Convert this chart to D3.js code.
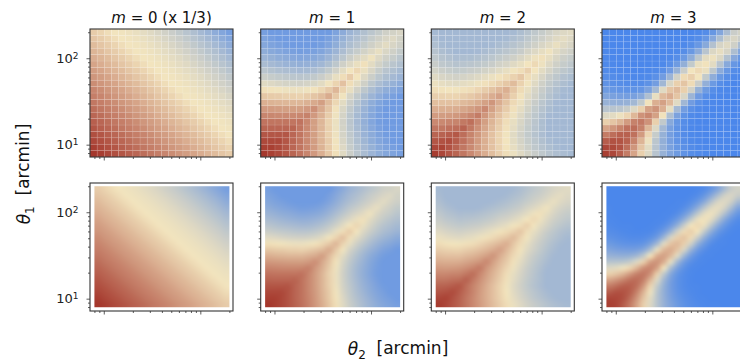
<!DOCTYPE html>
<html>
<head>
<meta charset="utf-8">
<script src="https://cdn.jsdelivr.net/npm/d3@7"></script>
<style>
  html, body { margin: 0; padding: 0; background: #fff; }
  svg { display: block; font-family: "DejaVu Sans", sans-serif; }
</style>
</head>
<body>
<div id="chart"></div>
<script>
// log-spaced bin edges in arcmin, same for theta1 and theta2
const thetaEdges = [7.2, 8.54, 10.13, 12.01, 14.24, 16.89, 20.03, 23.76, 28.17, 33.41, 39.62,
    46.99, 55.72, 66.09, 78.37, 92.95, 110.2, 130.7, 155.0, 183.9, 218.0];
const axisDomain = [7.2, 218];
const modelExtent = [8, 200];
const orders = [0, 1, 2, 3];
const titleNotes = [" (x 1/3)", "", "", ""];
const yTickLabels = [10, 100];

// maps are symmetric in theta1 <-> theta2, values in colour units (-100 red, 0 cream, 100 blue)
// row i = theta1 bin, holds theta2 bins 0..i
const mapM0 = [
    [-95],
    [-91, -86],
    [-86, -82, -78],
    [-82, -78, -73, -69],
    [-78, -73, -69, -65, -60],
    [-73, -69, -65, -60, -56, -52],
    [-69, -65, -60, -56, -52, -48, -43],
    [-65, -60, -56, -52, -48, -43, -39, -35],
    [-60, -56, -52, -48, -43, -39, -35, -30, -26],
    [-56, -52, -48, -43, -39, -35, -30, -26, -22, -17],
    [-52, -48, -43, -39, -35, -30, -26, -22, -17, -13, -9],
    [-48, -43, -39, -35, -30, -26, -22, -17, -13, -9, -4, 0],
    [-43, -39, -35, -30, -26, -22, -17, -13, -9, -4, 0, 1, 3],
    [-39, -35, -30, -26, -22, -17, -13, -9, -4, 0, 1, 3, 5, 8],
    [-35, -30, -26, -22, -17, -13, -9, -4, 0, 1, 3, 5, 8, 11, 15],
    [-30, -26, -22, -17, -13, -9, -4, 0, 1, 3, 5, 8, 11, 15, 19, 23],
    [-26, -22, -17, -13, -9, -4, 0, 1, 3, 5, 8, 11, 15, 19, 23, 28, 33],
    [-22, -17, -13, -9, -4, 0, 1, 3, 5, 8, 11, 15, 19, 23, 28, 33, 38, 44],
    [-17, -13, -9, -4, 0, 1, 3, 5, 8, 11, 15, 19, 23, 28, 33, 38, 44, 50, 57],
    [-13, -9, -4, 0, 1, 3, 5, 8, 11, 15, 19, 23, 28, 33, 38, 44, 50, 57, 63, 70]
];

const mapM1 = [
    [-95],
    [-90, -90],
    [-85, -85, -85],
    [-78, -78, -78, -78],
    [-70, -69, -69, -69, -70],
    [-62, -61, -61, -61, -61, -62],
    [-52, -51, -50, -50, -50, -51, -54],
    [-41, -40, -39, -38, -38, -38, -41, -46],
    [-29, -27, -26, -25, -25, -25, -28, -32, -38],
    [-16, -14, -13, -11, -11, -10, -13, -17, -22, -31],
    [-3, -1, 1, 3, 4, 4, 2, -1, -7, -15, -25],
    [10, 12, 15, 17, 18, 19, 17, 14, 9, 1, -9, -19],
    [22, 25, 27, 29, 31, 32, 31, 28, 23, 16, 6, -4, -13],
    [32, 35, 38, 40, 42, 44, 43, 40, 35, 28, 19, 9, 0, -7],
    [41, 44, 47, 50, 52, 54, 53, 50, 46, 39, 30, 20, 12, 5, -2],
    [49, 52, 56, 58, 61, 63, 62, 60, 56, 49, 40, 31, 22, 15, 9, 2],
    [56, 60, 63, 66, 69, 71, 70, 68, 64, 57, 49, 40, 31, 25, 18, 12, 6],
    [62, 66, 69, 72, 74, 74, 74, 74, 71, 65, 56, 47, 39, 33, 26, 20, 14, 9],
    [66, 70, 74, 74, 74, 74, 74, 74, 74, 69, 61, 52, 44, 38, 32, 25, 20, 15, 12],
    [70, 74, 74, 74, 74, 74, 74, 74, 74, 74, 66, 58, 49, 43, 37, 31, 26, 20, 18, 15]
];

const mapM2 = [
    [-92],
    [-86, -88],
    [-78, -80, -83],
    [-70, -71, -74, -77],
    [-60, -60, -63, -65, -71],
    [-50, -50, -52, -53, -59, -64],
    [-40, -39, -40, -42, -46, -51, -57],
    [-30, -29, -29, -30, -34, -38, -43, -50],
    [-21, -19, -19, -19, -23, -26, -31, -37, -43],
    [-12, -10, -9, -9, -12, -15, -19, -24, -30, -36],
    [-4, -1, 0, 1, -2, -4, -8, -13, -18, -24, -29],
    [4, 7, 9, 10, 8, 6, 3, -2, -6, -11, -16, -22],
    [11, 15, 17, 19, 17, 15, 12, 8, 4, -1, -5, -10, -16],
    [18, 22, 25, 27, 26, 24, 22, 18, 15, 10, 6, 1, -4, -11],
    [24, 29, 31, 34, 33, 32, 30, 27, 24, 19, 16, 11, 6, 0, -6],
    [29, 34, 37, 40, 39, 39, 37, 34, 31, 27, 24, 20, 15, 9, 3, -2],
    [34, 39, 42, 45, 45, 45, 44, 41, 38, 35, 32, 28, 24, 17, 12, 7, 2],
    [38, 43, 45, 45, 45, 45, 45, 45, 44, 41, 38, 34, 30, 25, 20, 15, 10, 5],
    [41, 45, 45, 45, 45, 45, 45, 45, 45, 45, 43, 39, 36, 30, 25, 21, 16, 11, 8],
    [43, 45, 45, 45, 45, 45, 45, 45, 45, 45, 45, 43, 39, 34, 29, 25, 20, 15, 12, 10]
];

const mapM3 = [
    [-90],
    [-86, -85],
    [-74, -80, -79],
    [-57, -65, -72, -72],
    [-35, -43, -53, -63, -65],
    [-11, -17, -26, -40, -54, -58],
    [12, 9, 3, -8, -25, -45, -51],
    [33, 33, 31, 25, 12, -11, -37, -44],
    [51, 53, 54, 52, 45, 28, -1, -29, -37],
    [64, 68, 70, 71, 69, 60, 38, 6, -23, -30],
    [75, 79, 82, 83, 83, 80, 67, 44, 10, -17, -23],
    [83, 86, 88, 90, 90, 89, 84, 72, 46, 15, -11, -17],
    [88, 90, 92, 93, 94, 93, 92, 86, 73, 49, 19, -5, -11],
    [91, 93, 94, 94, 95, 95, 94, 92, 87, 74, 52, 23, 0, -6],
    [93, 94, 95, 95, 95, 95, 95, 94, 93, 87, 75, 54, 27, 5, -1],
    [94, 95, 95, 95, 95, 95, 95, 95, 94, 93, 88, 76, 56, 30, 9, 3],
    [94, 95, 95, 95, 95, 95, 95, 95, 95, 94, 93, 88, 77, 58, 33, 13, 7],
    [95, 95, 95, 95, 95, 95, 95, 95, 95, 95, 94, 93, 88, 78, 60, 36, 16, 11],
    [95, 95, 95, 95, 95, 95, 95, 95, 95, 95, 95, 95, 93, 89, 79, 61, 39, 20, 15],
    [95, 95, 95, 95, 95, 95, 95, 95, 95, 95, 95, 95, 95, 93, 89, 79, 63, 41, 23, 18]
];

const width = 740;
const height = 362;
const panelW = 143;
const panelH = 128;
const colX = [90, 260.7, 431.3, 602];
const rowY = [29, 183];

const color = d3.scaleLinear()
    .domain([-100, 0, 100])
    .range(["#a12e24", "#f2e4be", "#4282ed"])
    .clamp(true);

const x = d3.scaleLog().domain(axisDomain).range([0, panelW]);
const y = d3.scaleLog().domain(axisDomain).range([panelH, 0]);

// fill the upper triangle from the stored lower one
const toFull = (tri) => tri.map((row, i) => tri.map((r, j) => (j <= i ? tri[i][j] : tri[j][i])));
const maps = [mapM0, mapM1, mapM2, mapM3].map(toFull);

const isMajor = (v) => Math.abs(Math.log10(v) - Math.round(Math.log10(v))) < 1e-6;
const minorX = x.ticks().filter((v) => !isMajor(v));
const minorY = y.ticks().filter((v) => !isMajor(v));
const majorX = x.ticks().filter(isMajor);

const svg = d3.select("#chart").append("svg")
    .attr("width", width)
    .attr("height", height);

function drawCells(g, mat) {
    const cells = [];
    mat.forEach((row, i) => row.forEach((v, j) => cells.push({ i: i, j: j, v: v })));
    g.selectAll("rect.cell")
        .data(cells)
        .enter().append("rect")
        .attr("class", "cell")
        .attr("x", (d) => x(thetaEdges[d.j]))
        .attr("width", (d) => x(thetaEdges[d.j + 1]) - x(thetaEdges[d.j]))
        .attr("y", (d) => y(thetaEdges[d.i + 1]))
        .attr("height", (d) => y(thetaEdges[d.i]) - y(thetaEdges[d.i + 1]))
        .attr("fill", (d) => color(d.v))
        .attr("stroke", "#fff")
        .attr("stroke-opacity", 0.16)
        .attr("stroke-width", 0.6);
}

function drawSmooth(g, mat) {
    const n = mat.length;
    const src = document.createElement("canvas");
    src.width = n;
    src.height = n;
    const ctx = src.getContext("2d");
    const img = ctx.createImageData(n, n);
    mat.forEach((row, i) => row.forEach((v, j) => {
        const c = d3.rgb(color(v));
        const k = ((n - 1 - i) * n + j) * 4;
        img.data[k] = c.r;
        img.data[k + 1] = c.g;
        img.data[k + 2] = c.b;
        img.data[k + 3] = 255;
    }));
    ctx.putImageData(img, 0, 0);

    const x0 = x(modelExtent[0]);
    const x1 = x(modelExtent[1]);
    const y0 = y(modelExtent[1]);
    const y1 = y(modelExtent[0]);
    const w = Math.round(x1 - x0);
    const h = Math.round(y1 - y0);
    const big = document.createElement("canvas");
    big.width = w * 2;
    big.height = h * 2;
    const bctx = big.getContext("2d");
    bctx.imageSmoothingEnabled = true;
    bctx.imageSmoothingQuality = "high";
    bctx.drawImage(src, 0, 0, w * 2, h * 2);

    g.append("image")
        .attr("x", x0)
        .attr("y", y0)
        .attr("width", w)
        .attr("height", h)
        .attr("preserveAspectRatio", "none")
        .attr("href", big.toDataURL());
}

function styleAxis(sel) {
    sel.select(".domain").remove();
    sel.selectAll(".tick line").attr("stroke", "#333").attr("stroke-width", 0.8);
}

function drawAxes(g, withLabels) {
    g.append("g")
        .attr("transform", "translate(0," + panelH + ")")
        .call(d3.axisBottom(x).tickValues(minorX).tickSize(2).tickFormat(""))
        .call(styleAxis);
    g.append("g")
        .attr("transform", "translate(0," + panelH + ")")
        .call(d3.axisBottom(x).tickValues(majorX).tickSize(3.5).tickFormat(""))
        .call(styleAxis);
    g.append("g")
        .call(d3.axisLeft(y).tickValues(minorY).tickSize(2).tickFormat(""))
        .call(styleAxis);
    const major = g.append("g")
        .call(d3.axisLeft(y).tickValues(yTickLabels).tickSize(3.5).tickPadding(8)
            .tickFormat(withLabels ? (d) => "10" : ""))
        .call(styleAxis);
    major.selectAll(".tick text")
        .attr("fill", "#222")
        .attr("font-size", 13)
        .attr("font-family", "DejaVu Sans")
        .each(function (d) {
            if (!withLabels) return;
            d3.select(this).append("tspan")
                .attr("dy", "-0.45em")
                .attr("font-size", 9)
                .text(Math.round(Math.log10(d)));
        });
}

rowY.forEach((top, r) => {
    orders.forEach((m, c) => {
        const g = svg.append("g")
            .attr("transform", "translate(" + colX[c] + "," + top + ")");
        if (r === 0) {
            drawCells(g, maps[c]);
        } else {
            drawSmooth(g, maps[c]);
        }
        drawAxes(g, c === 0);
        g.append("rect")
            .attr("width", panelW)
            .attr("height", panelH)
            .attr("fill", "none")
            .attr("stroke", "#333")
            .attr("stroke-width", 1.1);

        if (r === 0) {
            const t = g.append("text")
                .attr("x", panelW / 2)
                .attr("y", -6)
                .attr("text-anchor", "middle")
                .attr("font-size", 15)
                .attr("fill", "#111")
                .style("white-space", "pre");
            t.append("tspan").attr("font-style", "italic").text("m");
            t.append("tspan").text(" = " + m + titleNotes[c]);
        }
    });
});

// axis labels
const yLabel = svg.append("text")
    .attr("transform", "translate(30,174) rotate(-90)")
    .attr("text-anchor", "middle")
    .attr("font-size", 17)
    .attr("fill", "#111")
    .style("white-space", "pre");
yLabel.append("tspan").attr("font-style", "italic").text("θ");
yLabel.append("tspan").attr("font-size", 12).attr("dy", "0.3em").text("1");
yLabel.append("tspan").attr("dy", "-0.3em").text("  [arcmin]");

const xLabel = svg.append("text")
    .attr("x", 398)
    .attr("y", 355)
    .attr("text-anchor", "middle")
    .attr("font-size", 17)
    .attr("fill", "#111")
    .style("white-space", "pre");
xLabel.append("tspan").attr("font-style", "italic").text("θ");
xLabel.append("tspan").attr("font-size", 12).attr("dy", "0.3em").text("2");
xLabel.append("tspan").attr("dy", "-0.3em").text("  [arcmin]");
</script>
</body>
</html>
